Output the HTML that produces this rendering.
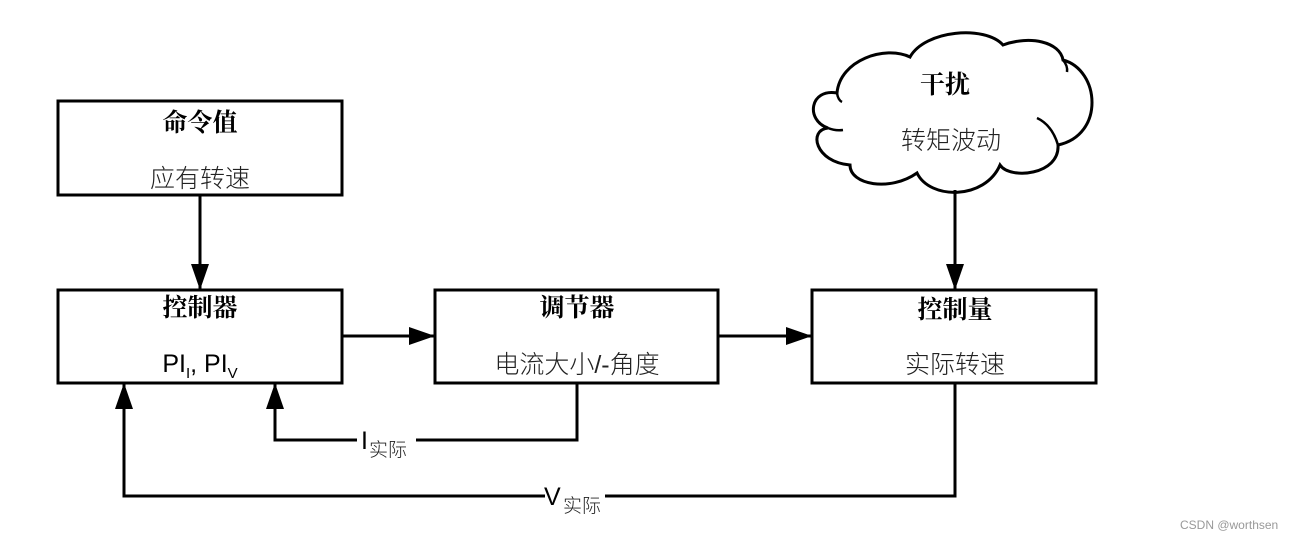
<!DOCTYPE html>
<html><head><meta charset="utf-8"><style>
html,body{margin:0;padding:0;background:#fff;}
svg{display:block;}
.t{font-family:"Liberation Serif","Noto Serif CJK SC",serif;font-weight:bold;font-size:25px;fill:#000;}
.s{font-family:"Liberation Sans","Noto Sans CJK SC",sans-serif;font-weight:300;font-size:25px;fill:#222;}
</style></head><body>
<svg width="1301" height="539" viewBox="0 0 1301 539" xmlns="http://www.w3.org/2000/svg">
<defs>
<marker id="b" markerWidth="26" markerHeight="18" refX="26" refY="9" orient="auto" markerUnits="userSpaceOnUse" viewBox="0 0 26 18"><path d="M0,0 L26,9 L0,18 z" fill="#000"/></marker></defs>
<g fill="none" stroke="#000" stroke-width="3">
<rect x="58" y="101" width="284" height="94"/>
<rect x="58" y="290" width="284" height="93"/>
<rect x="435" y="290" width="283" height="93"/>
<rect x="812" y="290" width="284" height="93"/>
<path d="M837,93 C840,60 885,45 910,57 C925,30 985,25 1003,45 C1030,35 1060,42 1063,60 C1100,70 1105,135 1058,145 C1060,175 1010,180 1000,165 C985,200 930,200 917,173 C890,192 850,185 850,165 C815,162 808,130 828,128 C805,120 810,88 837,93 Z"/>
<path d="M1037,118 Q1052,125 1058,145" stroke-width="2.5"/>
<path d="M837,93 Q838,100 842,102" stroke-width="2.5"/>
<path d="M843,130 Q835,131 828,128" stroke-width="2.5"/>
<path d="M1063,60 Q1068,66 1067,72" stroke-width="2.5"/>
<line x1="200" y1="195" x2="200" y2="290" marker-end="url(#b)"/>
<line x1="955" y1="190" x2="955" y2="290" marker-end="url(#b)"/>
<line x1="342" y1="336" x2="435" y2="336" marker-end="url(#b)"/>
<line x1="718" y1="336" x2="812" y2="336" marker-end="url(#b)"/>
<polyline points="577,383 577,440 416,440"/>
<polyline points="357,440 275,440 275,383" marker-end="url(#b)"/>
<polyline points="955,383 955,496 605,496"/>
<polyline points="545,496 124,496 124,383" marker-end="url(#b)"/>
</g>
<text class="t" x="200" y="131" text-anchor="middle">命令值</text>
<text class="s" x="200" y="187" text-anchor="middle">应有转速</text>
<text class="t" x="200" y="316" text-anchor="middle">控制器</text>
<text x="200" y="372" text-anchor="middle" style="font-family:'Liberation Sans',sans-serif;font-size:25px;fill:#000">PI<tspan font-size="15" dy="6">I</tspan><tspan dy="-6">, PI</tspan><tspan font-size="15" dy="6">V</tspan></text>
<text class="t" x="577" y="316" text-anchor="middle">调节器</text>
<text class="s" x="577" y="373" text-anchor="middle">电流大小/-角度</text>
<text class="t" x="955" y="318" text-anchor="middle">控制量</text>
<text class="s" x="955" y="373" text-anchor="middle">实际转速</text>
<text class="t" x="945" y="93" text-anchor="middle">干扰</text>
<text class="s" x="951" y="149" text-anchor="middle">转矩波动</text>
<text x="361" y="449" style="font-family:'Liberation Sans',sans-serif;font-size:25px;fill:#000">I</text>
<text class="s" x="369" y="456" style="font-size:19px">实际</text>
<text x="544" y="505" style="font-family:'Liberation Sans',sans-serif;font-size:25px;fill:#000">V</text>
<text class="s" x="563" y="512" style="font-size:19px">实际</text>
<text x="1180" y="529" style="font-family:'Liberation Sans',sans-serif;font-size:12px;fill:#999">CSDN @worthsen</text>
</svg>
</body></html>
